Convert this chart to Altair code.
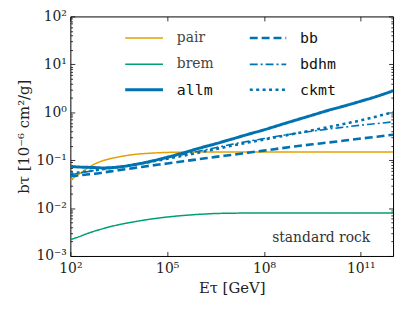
import altair as alt
import pandas as pd

# ---- data ----
log_E = [2, 2.25, 2.5, 2.75, 3, 3.5, 4, 4.5, 5, 5.5, 6, 6.5, 7, 7.5, 8, 8.5, 9, 9.5, 10, 10.5, 11, 11.5, 12]
pair = [0.038, 0.050, 0.066, 0.083, 0.097, 0.117, 0.132, 0.140, 0.145, 0.147, 0.148, 0.148, 0.148, 0.148,
        0.148, 0.148, 0.148, 0.148, 0.148, 0.148, 0.148, 0.148, 0.148]
brem = [0.0022, 0.0025, 0.0029, 0.0033, 0.0037, 0.0045, 0.0052, 0.0059, 0.0065, 0.0070, 0.0074, 0.0077,
        0.0078, 0.0079, 0.0079, 0.0079, 0.0079, 0.0079, 0.0079, 0.0079, 0.0079, 0.0079, 0.0079]
allm = [0.074, 0.072, 0.071, 0.070, 0.069, 0.072, 0.081, 0.095, 0.115, 0.142, 0.178, 0.22, 0.275, 0.345,
        0.43, 0.545, 0.69, 0.87, 1.1, 1.36, 1.7, 2.15, 2.8]
bb = [0.046, 0.048, 0.050, 0.052, 0.055, 0.062, 0.069, 0.077, 0.085, 0.095, 0.105, 0.117, 0.129, 0.143,
      0.158, 0.176, 0.195, 0.214, 0.234, 0.257, 0.282, 0.309, 0.339]
bdhm = [0.050, 0.053, 0.057, 0.061, 0.065, 0.073, 0.083, 0.096, 0.112, 0.132, 0.155, 0.182, 0.214, 0.247,
        0.282, 0.322, 0.363, 0.403, 0.447, 0.49, 0.537, 0.58, 0.631]
ckmt = [0.052, 0.055, 0.058, 0.061, 0.065, 0.072, 0.081, 0.093, 0.107, 0.124, 0.145, 0.170, 0.20, 0.233,
        0.27, 0.313, 0.363, 0.42, 0.49, 0.575, 0.676, 0.82, 1.0]

series_names = ["pair", "brem", "allm", "bb", "bdhm", "ckmt"]
series_vals = [pair, brem, allm, bb, bdhm, ckmt]
colors = ["#E69F00", "#009E73", "#0072B2", "#0072B2", "#0072B2", "#0072B2"]
dashes = [[1, 0], [1, 0], [1, 0], [8, 4], [8, 3, 2, 3], [3, 3.5]]
widths = [1.5, 1.5, 3.0, 2.6, 1.6, 2.6]

x_ticks = [1e2, 1e5, 1e8, 1e11]
y_labels = ["10⁻³", "10⁻²", "10⁻¹", "10⁰", "10¹", "10²"]

rows = []
for name, vals, w in zip(series_names, series_vals, widths):
    for le, v in zip(log_E, vals):
        rows.append({"E": 10 ** le, "b": v, "series": name, "w": w})
df = pd.DataFrame(rows)

# legend layout (data coordinates)
leg_x1 = [10 ** 3.7, 10 ** 3.7, 10 ** 3.7, 10 ** 7.56, 10 ** 7.56, 10 ** 7.56]
leg_x2 = [10 ** 4.87, 10 ** 4.87, 10 ** 4.87, 10 ** 8.69, 10 ** 8.69, 10 ** 8.69]
leg_tx = [10 ** 5.3, 10 ** 5.3, 10 ** 5.3, 10 ** 9.12, 10 ** 9.12, 10 ** 9.12]
leg_y = [10 ** 1.55, 10 ** 1.0, 10 ** 0.47, 10 ** 1.55, 10 ** 1.0, 10 ** 0.47]
leg_mono = [False, False, True, True, True, True]
leg = pd.DataFrame({"series": series_names, "x1": leg_x1, "x2": leg_x2, "w": widths,
                    "tx": leg_tx, "y": leg_y, "mono": leg_mono})

note = pd.DataFrame({"E": [10 ** 11.29], "b": [10 ** -2.70], "t": ["standard rock"]})

# ---- scales / axes ----
xscale = alt.Scale(type="log", domain=[1e2, 1e12], nice=False)
yscale = alt.Scale(type="log", domain=[1e-3, 1e2], nice=False)
y_ticks = [m * 10 ** k for k in range(-3, 2) for m in range(1, 10)] + [100]

MAJ = "abs(log(datum.value)/LN10 - round(log(datum.value)/LN10)) < 1e-6"
y_label_expr = (MAJ + " ? " + str(y_labels) + "[round(log(datum.value)/LN10)+3] : ''")
x_label_expr = "{'2':'10²','5':'10⁵','8':'10⁸','11':'10¹¹'}[''+round(log(datum.value)/LN10)]"

W, H = 326, 242
SERIF = "DejaVu Serif"
MONO = "DejaVu Sans Mono"
tick_size = {"condition": {"test": MAJ, "value": 4.5}, "value": 2.2}


def tick_axis(orient, offset, vals, size):
    return alt.Axis(orient=orient, offset=offset, values=vals, labels=False, title=None,
                    domain=False, grid=False, ticks=True, tickSize=size,
                    tickColor="black", tickWidth=0.8)


color_enc = alt.Color("series:N", scale=alt.Scale(domain=series_names, range=colors), legend=None)
dash_enc = alt.StrokeDash("series:N", scale=alt.Scale(domain=series_names, range=dashes), legend=None)
width_enc = alt.StrokeWidth("w:Q", scale=None, legend=None)

lines = alt.Chart(df).mark_line(interpolate="monotone", clip=True).encode(
    x=alt.X("E:Q", scale=xscale,
            axis=alt.Axis(orient="bottom", values=x_ticks, labelExpr=x_label_expr, ticks=False,
                          domain=False, grid=False, labelFont=SERIF, labelFontSize=14,
                          labelFlush=False, labelOverlap=False,
                          labelColor="#222", labelPadding=6, title="Eτ [GeV]",
                          titleFont=SERIF, titleFontSize=15, titleFontWeight="normal",
                          titleColor="#222", titlePadding=5)),
    y=alt.Y("b:Q", scale=yscale,
            axis=alt.Axis(orient="left", values=y_ticks, labelExpr=y_label_expr, ticks=False,
                          domain=False, grid=False, labelFont=SERIF, labelFontSize=14,
                          labelFlush=False, labelOverlap=False,
                          labelColor="#222", labelPadding=4, title="bτ [10⁻⁶ cm²/g]",
                          titleFont=SERIF, titleFontSize=15, titleFontWeight="normal",
                          titleColor="#222", titlePadding=4)),
    color=color_enc, strokeDash=dash_enc, strokeWidth=width_enc, detail="series:N",
)

leg_lines = alt.Chart(leg).mark_rule().encode(
    x=alt.X("x1:Q", scale=xscale, axis=tick_axis("top", -H, x_ticks, 4.5)),
    x2="x2:Q",
    y=alt.Y("y:Q", scale=yscale, axis=tick_axis("right", -W, y_ticks, tick_size)),
    color=color_enc, strokeDash=dash_enc, strokeWidth=width_enc,
)

leg_text_serif = alt.Chart(leg).transform_filter("!datum.mono").mark_text(
    align="left", baseline="middle", font=SERIF, fontSize=14, color="#444"
).encode(
    x=alt.X("tx:Q", scale=xscale, axis=tick_axis("bottom", -H, x_ticks, 4.5)),
    y=alt.Y("y:Q", scale=yscale, axis=tick_axis("left", -W, y_ticks, tick_size)),
    text="series:N",
)

leg_text_mono = alt.Chart(leg).transform_filter("datum.mono").mark_text(
    align="left", baseline="middle", font=MONO, fontSize=15, color="#111"
).encode(
    x=alt.X("tx:Q", scale=xscale, axis=None),
    y=alt.Y("y:Q", scale=yscale, axis=None),
    text="series:N",
)

note_text = alt.Chart(note).mark_text(
    align="right", baseline="alphabetic", font=SERIF, fontSize=14, color="#333"
).encode(
    x=alt.X("E:Q", scale=xscale, axis=None),
    y=alt.Y("b:Q", scale=yscale, axis=None),
    text="t:N",
)

chart = alt.layer(lines, leg_lines, leg_text_serif, leg_text_mono, note_text).resolve_axis(
    x="independent", y="independent"
).properties(
    width=W, height=H,
    autosize=alt.AutoSizeParams(type="none"),
    padding={"left": 63, "top": 7, "right": 4, "bottom": 48},
    background="white",
).configure_view(stroke="black", strokeWidth=1)

chart.save("out.html", embed_options={"renderer": "svg", "actions": False})
